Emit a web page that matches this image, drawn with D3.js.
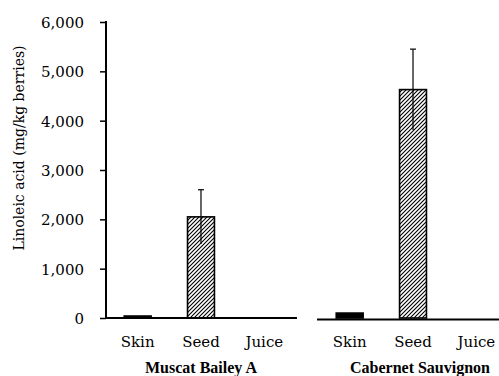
<!DOCTYPE html>
<html lang="en">
<head>
<meta charset="utf-8">
<script src="https://d3js.org/d3.v7.min.js"></script>
<title>Linoleic acid</title>
<style type="text/css">
body {
	margin: 0;
	background-color: #ffffff;
}
.tick text, .cat {
	font: 15px "DejaVu Serif", serif;
	fill: #000;
}
.grp {
	font: bold 16px "Liberation Serif", "Times New Roman", serif;
	fill: #000;
}
</style>
</head>
<body>
<script type="text/javascript">
// data
var groups = ["Muscat Bailey A", "Cabernet Sauvignon"];
var parts = ["Skin", "Seed", "Juice"];
var meanMBA = [40, 2050, 0];
var sdMBA = [0, 550, 0];
var meanCS = [100, 4630, 0];
var sdCS = [0, 820, 0];
var yTicks = [0, 1000, 2000, 3000, 4000, 5000, 6000];

var width = 499, height = 376;

var rows = [];
parts.forEach(function(p, i) {
  rows.push({group: groups[0], part: p, mean: meanMBA[i], sd: sdMBA[i]});
  rows.push({group: groups[1], part: p, mean: meanCS[i], sd: sdCS[i]});
});

var svg = d3.select("body").append("svg")
  .attr("width", width)
  .attr("height", height);

// hatch pattern ///
var defs = svg.append("defs");
defs.append("pattern")
  .attr("id", "hatch")
  .attr("patternUnits", "userSpaceOnUse")
  .attr("width", 4)
  .attr("height", 4)
  .append("path")
  .attr("d", "M-1,1 l2,-2 M0,4 l4,-4 M3,5 l2,-2")
  .attr("stroke", "#000")
  .attr("stroke-width", 1.1);

var y = d3.scaleLinear().domain([0, 6000]).range([318, 22]);

var x0 = d3.scaleBand().domain(groups).range([106, 508]).paddingInner(0.104);
var x1 = d3.scaleBand().domain(parts).range([0, x0.bandwidth()])
  .paddingInner(0.575).paddingOuter(0.2875);

// y axis
var yAxis = d3.axisLeft(y)
  .tickValues(yTicks)
  .tickSize(6)
  .tickPadding(16)
  .tickFormat(d3.format(",d"));

var ga = svg.append("g")
  .attr("transform", "translate(106,0)")
  .call(yAxis);
ga.select(".domain").attr("stroke-width", 2).attr("d", "M0,21V319");
ga.selectAll(".tick line").attr("stroke-width", 1.5);
ga.selectAll(".tick text").attr("dy", "0.36em");

// baseline per group
svg.selectAll(".base")
  .data(groups)
  .enter()
  .append("line")
  .attr("x1", function(d, i) { return i == 0 ? 106 : x0(d) - 1; })
  .attr("x2", function(d, i) { return i == 0 ? x0(d) + x0.bandwidth() + 1 : width; })
  .attr("y1", function(d, i) { return y(0) + i * 1.5; })
  .attr("y2", function(d, i) { return y(0) + i * 1.5; })
  .attr("stroke", "#000")
  .attr("stroke-width", 2);

// bars
svg.selectAll(".bar")
  .data(rows.filter(function(d) { return d.mean > 0; }))
  .enter()
  .append("rect")
  .attr("class", "bar")
  .attr("x", function(d) { return x0(d.group) + x1(d.part); })
  .attr("width", x1.bandwidth())
  .attr("y", function(d) { return y(d.mean); })
  .attr("height", function(d) { return y(0) - y(d.mean); })
  .style("fill", function(d) { return d.mean < 200 ? "#000" : "url(#hatch)"; })
  .style("stroke", "#000")
  .style("stroke-width", 1.6);

// error bars (upper cap only)
var err = svg.selectAll(".err")
  .data(rows.filter(function(d) { return d.sd > 0; }))
  .enter()
  .append("g");

err.append("line")
  .attr("x1", function(d) { return x0(d.group) + x1(d.part) + x1.bandwidth() / 2; })
  .attr("x2", function(d) { return x0(d.group) + x1(d.part) + x1.bandwidth() / 2; })
  .attr("y1", function(d) { return y(d.mean - d.sd); })
  .attr("y2", function(d) { return y(d.mean + d.sd); })
  .attr("stroke", "#000")
  .attr("stroke-width", 1.2);

err.append("line")
  .attr("x1", function(d) { return x0(d.group) + x1(d.part) + x1.bandwidth() / 2 - 3; })
  .attr("x2", function(d) { return x0(d.group) + x1(d.part) + x1.bandwidth() / 2 + 3; })
  .attr("y1", function(d) { return y(d.mean + d.sd); })
  .attr("y2", function(d) { return y(d.mean + d.sd); })
  .attr("stroke", "#000")
  .attr("stroke-width", 1.2);

// category labels
svg.selectAll(".cat")
  .data(rows)
  .enter()
  .append("text")
  .attr("class", "cat")
  .attr("x", function(d) { return x0(d.group) + x1(d.part) + x1.bandwidth() / 2; })
  .attr("y", 347)
  .attr("text-anchor", "middle")
  .text(function(d) { return d.part; });

// group labels
svg.selectAll(".grp")
  .data(groups)
  .enter()
  .append("text")
  .attr("class", "grp")
  .attr("x", function(d, i) { return x0(d) + x0.bandwidth() / 2 + i * 7; })
  .attr("y", 373)
  .attr("text-anchor", "middle")
  .text(function(d) { return d; });

// y title
svg.append("text")
  .attr("transform", "translate(24,148) rotate(-90)")
  .attr("text-anchor", "middle")
  .style("font", "14px 'DejaVu Serif', serif")
  .text("Linoleic acid (mg/kg berries)");
</script>
</body>
</html>
